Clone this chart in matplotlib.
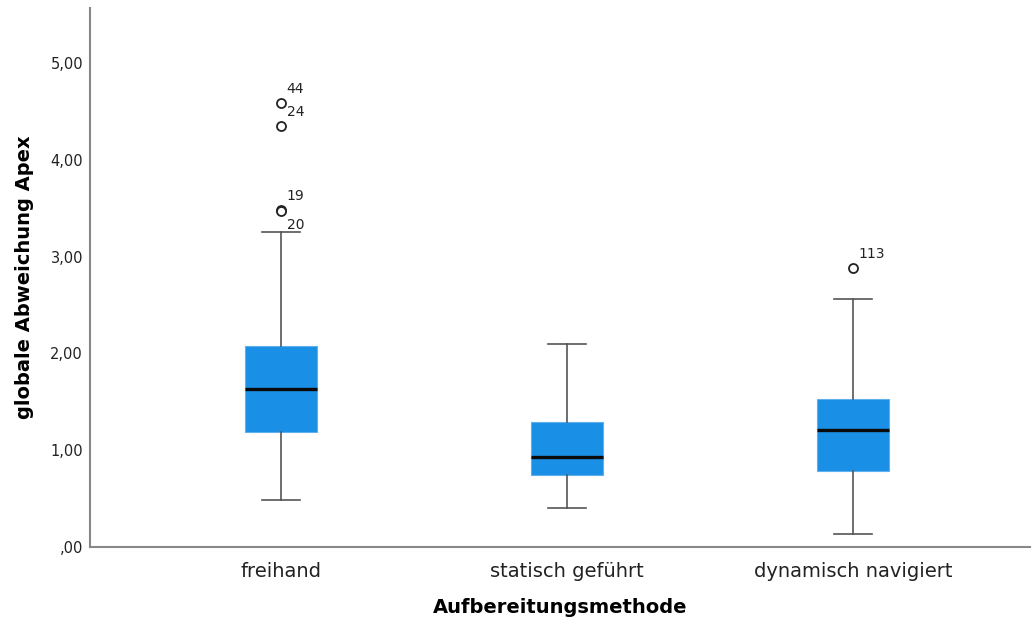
import matplotlib
matplotlib.use("Agg")
import matplotlib.pyplot as plt

categories = ["freihand", "statisch geführt", "dynamisch navigiert"]
whisker_low = [0.486, 0.403, 0.134]
q1 = [1.188, 0.744, 0.785]
median = [1.632, 0.930, 1.209]
q3 = [2.076, 1.291, 1.529]
whisker_high = [3.254, 2.097, 2.562]
outliers = [[4.587, 4.349, 3.481, 3.470], [], [2.882]]
outlier_ids = [["44", "24", "19", "20"], [], ["113"]]
yticks = [0, 1, 2, 3, 4, 5]
yticklabels = [",00", "1,00", "2,00", "3,00", "4,00", "5,00"]

plt.rcParams['font.family'] = ['DejaVu Sans']
fig = plt.figure(figsize=(10.34, 6.23), dpi=100)
ax = fig.add_axes([0.087, 0.122, 0.909, 0.865])

stats = []
for i in range(len(categories)):
    stats.append(dict(whislo=whisker_low[i], q1=q1[i], med=median[i], q3=q3[i],
                      whishi=whisker_high[i], fliers=outliers[i], label=categories[i]))

positions = [1, 2, 3]
ax.bxp(stats, positions=positions, widths=0.252, patch_artist=True, showfliers=True,
       boxprops=dict(facecolor="#1a8fe6", edgecolor="#5fb0ee", linewidth=0.8),
       medianprops=dict(color="#0a0a0a", linewidth=2.4),
       whiskerprops=dict(color="#555555", linewidth=1.2),
       capprops=dict(color="#555555", linewidth=1.2),
       capwidths=0.135,
       flierprops=dict(marker="o", markerfacecolor="white", markeredgecolor="#222222",
                       markersize=6.5, markeredgewidth=1.3))

# outlier labels
for i, (vals, ids) in enumerate(zip(outliers, outlier_ids)):
    for j, (v, lab) in enumerate(zip(vals, ids)):
        dy = -10 if lab == "20" else 10
        ax.annotate(lab, xy=(positions[i], v), xytext=(4, dy), textcoords="offset points",
                    fontsize=10, color="#222222", ha="left", va="center")

ax.set_xlim(0.332, 3.619)
ax.set_ylim(0, 5.57)
ax.set_yticks(yticks)
ax.set_yticklabels(yticklabels, fontsize=10.5, color="#222222")
ax.set_xticks(positions)
ax.set_xticklabels(categories, fontsize=14, color="#222222")
ax.tick_params(axis="both", length=0, pad=5)
ax.tick_params(axis="x", pad=11)

for s in ["top", "right"]:
    ax.spines[s].set_visible(False)
for s in ["left", "bottom"]:
    ax.spines[s].set_color("#888888")
    ax.spines[s].set_linewidth(1.5)

ax.set_xlabel("Aufbereitungsmethode", fontsize=14, fontweight="bold", labelpad=12)
ax.set_ylabel("globale Abweichung Apex", fontsize=14, fontweight="bold", labelpad=12)

fig.savefig("out.png", dpi=100, facecolor="white")
